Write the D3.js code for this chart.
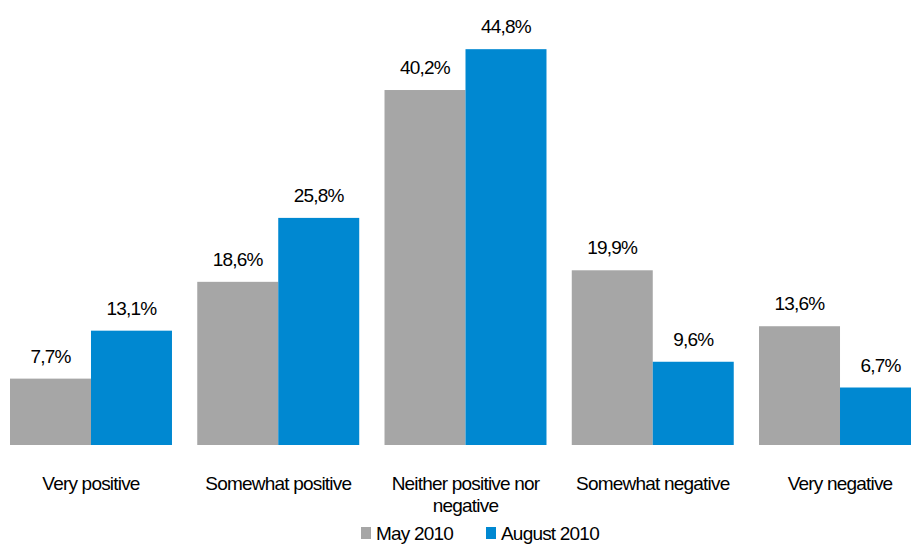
<!DOCTYPE html>
<html>
<head>
<meta charset="utf-8">
<script src="https://cdn.jsdelivr.net/npm/d3@7"></script>
<style>
  body { margin: 0; background: #fff; }
  svg text { font-family: "Liberation Sans Narrow", "Arial Narrow", "Liberation Sans", sans-serif; fill: #000; letter-spacing: -0.8px; }
</style>
</head>
<body>
<div id="chart"></div>
<script>
// data
var categories = ["Very positive", "Somewhat positive", "Neither positive nor negative", "Somewhat negative", "Very negative"];
var seriesNames = ["May 2010", "August 2010"];
var may2010 = [7.7, 18.6, 40.2, 19.9, 13.6];
var august2010 = [13.1, 25.8, 44.8, 9.6, 6.7];
var colors = ["#a6a6a6", "#0088d1"];

var width = 911, height = 544;

var svg = d3.select("#chart").append("svg")
    .attr("width", width)
    .attr("height", height);

// scales
var x0 = d3.scaleBand().domain(categories).range([10, 921]).paddingInner(0.135).paddingOuter(0);
var x1 = d3.scaleBand().domain(seriesNames).range([0, x0.bandwidth()]);
var y = d3.scaleLinear().domain([0, 50]).range([447, 3]);

var rows = categories.map(function(c, i) {
    return {cat: c, values: [may2010[i], august2010[i]]};
});

var groups = svg.selectAll(".grp")
    .data(rows)
    .enter().append("g")
    .attr("class", "grp")
    .attr("transform", function(d) { return "translate(" + x0(d.cat) + ",0)"; });

groups.selectAll("rect")
    .data(function(d) { return d.values.map(function(v, j) { return {s: seriesNames[j], v: v, j: j}; }); })
    .enter().append("rect")
    .attr("x", function(d) { return x1(d.s); })
    .attr("width", x1.bandwidth())
    .attr("y", function(d) { return y(d.v); })
    .attr("height", function(d) { return y(0) - y(d.v) - 2; })
    .attr("fill", function(d) { return colors[d.j]; });

groups.selectAll(".lbl")
    .data(function(d) { return d.values.map(function(v, j) { return {s: seriesNames[j], v: v}; }); })
    .enter().append("text")
    .attr("class", "lbl")
    .attr("x", function(d) { return x1(d.s) + x1.bandwidth() / 2; })
    .attr("y", function(d) { return y(d.v) - 16; })
    .attr("text-anchor", "middle")
    .style("font-size", "19px")
    .text(function(d) { return d3.format(".1f")(d.v).replace(".", ",") + "%"; });

// category labels (wrap the long one)
var catText = groups.append("text")
    .attr("text-anchor", "middle")
    .style("font-size", "19px")
    .attr("y", 490);
catText.each(function(d) {
    var lines = d.cat === "Neither positive nor negative" ? ["Neither positive nor", "negative"] : [d.cat];
    var t = d3.select(this);
    lines.forEach(function(l, i) {
        t.append("tspan")
            .attr("x", x0.bandwidth() / 2)
            .attr("dy", i === 0 ? 0 : 21.5)
            .text(l);
    });
});

// legend
var legendX = [361, 486];
var legend = svg.selectAll(".leg")
    .data(seriesNames)
    .enter().append("g")
    .attr("class", "leg")
    .attr("transform", function(d, i) { return "translate(" + legendX[i] + ",527)"; });
legend.append("rect")
    .attr("width", 10)
    .attr("height", 12)
    .attr("fill", function(d, i) { return colors[i]; });
legend.append("text")
    .attr("x", 15)
    .attr("y", 13)
    .style("font-size", "19px")
    .text(function(d) { return d; });
</script>
</body>
</html>
